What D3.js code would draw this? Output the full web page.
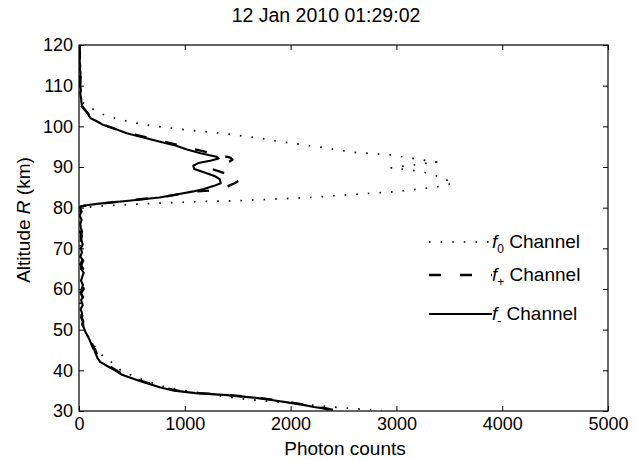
<!DOCTYPE html>
<html>
<head>
<meta charset="utf-8">
<script src="https://cdn.jsdelivr.net/npm/d3@7"></script>
<style>
  body { margin: 0; background: #fff; }
  text { font-family: "Liberation Sans", Arial, sans-serif; fill: #000; }
</style>
</head>
<body>
<div id="container"></div>
<script>
'use strict';

const width = 637,
      height = 460,
      margin = {top: 45, bottom: 49, right: 29, left: 79};

// altitude (km), photon counts
const f0Data = [
  [120, 2], [118, 4], [116, 6], [114, 5], [112, 8], [110, 12], [108, 15], [107, 20],
  [106, 30], [105, 70], [104.3, 126], [103, 220], [102, 340], [101, 500], [100.2, 671],
  [99.1, 1018], [98.3, 1349], [97.1, 1711], [96.6, 1805], [95, 2247], [93.6, 2593],
  [93, 2940], [92.1, 3160], [91.2, 3381], [90.5, 3150], [89.8, 2950], [89.2, 3150],
  [88.5, 3300], [87.5, 3420], [86.5, 3500], [86, 3540], [85.2, 3403], [84.5, 3190],
  [83.9, 2971], [83.3, 2624], [82.5, 2183], [82.1, 1837], [81.7, 1490], [81.5, 1144],
  [81.2, 850], [80.8, 500], [80.4, 200], [80, 50], [79, 10], [77, 15], [75, 8], [73, 20],
  [71, 12], [69, 18], [67, 10], [65, 22], [63, 15], [61, 25], [59, 12], [57, 10],
  [55, 15], [53.5, 20], [52, 25], [50, 55], [47.5, 104], [45.5, 160], [43.4, 230],
  [41.7, 324], [39.8, 403], [37.6, 608], [35.8, 829], [34.8, 1049], [34.4, 1175],
  [33.1, 1490], [32.3, 1837], [31.7, 2089], [31.2, 2309], [30.7, 2530], [30.4, 2700],
  [30.2, 2860]
];

const fPlusData = [
  [120, 6], [119, 3], [118, 10], [117, 5], [116, 14], [115, 8], [114, 12], [113, 6],
  [112, 16], [111, 10], [110, 13], [109, 20], [108, 10], [107, 24], [106, 20], [105, 25],
  [104, 55], [103, 90], [102, 130], [101, 200], [100, 270], [99, 380], [98, 520],
  [97, 690], [96, 840], [95, 1000], [94, 1150], [93, 1330], [92.3, 1430], [91.8, 1450],
  [91.3, 1420], [90.5, 1330], [89.5, 1260], [88.4, 1380], [87.5, 1480], [86.8, 1520],
  [86, 1470], [85.2, 1400], [84.6, 1300], [84.2, 1238], [84, 1112], [83.5, 1000],
  [82.6, 780], [81.8, 480], [81, 200], [80.6, 80], [80.3, 20], [80, 8], [79, 25],
  [78, 12], [77, 30], [76, 15], [75, 22], [74, 10], [73, 28], [72, 18], [71, 30],
  [70, 14], [69, 35], [68, 20], [67, 30], [66, 12], [65, 40], [64, 22], [63, 35],
  [62, 15], [61, 30], [60, 45], [59, 20], [58, 32], [57, 15], [56, 38], [55, 22],
  [54, 40], [53, 25], [52, 40], [51, 38], [50.3, 55], [49.5, 70], [48.5, 90],
  [47.5, 115], [46.5, 125], [45.5, 140], [45, 155], [44, 170], [43, 190], [42, 220],
  [41, 290], [40, 350], [39, 420], [38.3, 480], [37.5, 580], [36.5, 700], [35.8, 790],
  [35, 930], [34.4, 1130], [33.9, 1420], [33.3, 1680], [32.7, 1850], [32, 2030],
  [31.5, 2150], [31, 2250], [30.7, 2330], [30.3, 2400]
];

const fMinusData = [
  [120, 5], [119, 8], [118, 4], [117, 10], [116, 6], [115, 12], [114, 8], [113, 15],
  [112, 10], [111, 14], [110, 9], [109, 18], [108, 12], [107, 20], [106, 22], [105, 30],
  [104.5, 45], [104, 60], [103.5, 75], [103, 85], [102.5, 95], [102, 110], [101.5, 150],
  [101, 185], [100.3, 230], [99.5, 330], [98.3, 451], [97.3, 600], [96.2, 766],
  [95.2, 920], [94.3, 1020], [93.4, 1150], [92.5, 1300], [92.1, 1320], [91.6, 1250],
  [91, 1130], [90.3, 1080], [89.5, 1090], [88.7, 1180], [87.8, 1280], [87, 1330],
  [86, 1340], [85.3, 1270], [84.6, 1180], [84, 1080], [83.4, 960], [82.5, 760],
  [81.7, 470], [81, 190], [80.6, 70], [80.3, 15], [80, 10], [79, 20], [78, 8], [77, 25],
  [76, 12], [75, 18], [74, 30], [73, 15], [72, 22], [71, 35], [70, 18], [69, 28],
  [68, 12], [67, 40], [66, 25], [65, 18], [64, 45], [63, 30], [62, 20], [61, 38],
  [60, 25], [59, 15], [58, 40], [57.3, 20], [56, 35], [55, 15], [54, 30], [53, 20],
  [52, 35], [51.2, 30], [50.5, 45], [49.5, 60], [48.5, 80], [47.5, 100], [46.5, 115],
  [45.5, 130], [45, 145], [44, 160], [43, 175], [42.1, 200], [41, 270], [40, 340],
  [39, 400], [38.4, 460], [37.5, 560], [36.5, 680], [35.8, 770], [35, 900], [34.4, 1100],
  [33.9, 1400], [33.3, 1650], [32.7, 1820], [32, 2000], [31.5, 2120], [31, 2220],
  [30.7, 2300], [30.3, 2360]
];

const xTicks = [0, 1000, 2000, 3000, 4000, 5000];
const yTicks = [30, 40, 50, 60, 70, 80, 90, 100, 110, 120];

const series = [
  {name: "0", data: f0Data, dash: "1.6,10", width: 1.7},
  {name: "+", data: fPlusData, dash: "12,19", width: 2.3},
  {name: "-", data: fMinusData, dash: null, width: 2.1}
];

const svg = d3.select("#container")
  .append("svg")
  .attr("width", width)
  .attr("height", height);

const xScale = d3.scaleLinear()
  .domain([0, 5000])
  .range([margin.left, width - margin.right]);

const yScale = d3.scaleLinear()
  .domain([30, 120])
  .range([height - margin.bottom, margin.top]);

svg.append("defs").append("clipPath")
  .attr("id", "plotclip")
  .append("rect")
  .attr("x", margin.left)
  .attr("y", margin.top)
  .attr("width", width - margin.left - margin.right)
  .attr("height", height - margin.top - margin.bottom);

const line = d3.line()
  .x(d => xScale(d[1]))
  .y(d => yScale(d[0]));

svg.append("g")
  .attr("clip-path", "url(#plotclip)")
  .selectAll("path")
  .data(series)
  .join("path")
  .attr("d", d => line(d.data))
  .attr("fill", "none")
  .attr("stroke", "#000")
  .attr("stroke-width", d => d.width)
  .attr("stroke-linejoin", "round")
  .attr("stroke-dasharray", d => d.dash);

// axes with inward ticks (matlab style)
const xAxis = d3.axisBottom(xScale).tickValues(xTicks).tickFormat(d3.format("d"))
  .tickSizeInner(-5).tickSizeOuter(0).tickPadding(6);
const yAxis = d3.axisLeft(yScale).tickValues(yTicks).tickFormat(d3.format("d"))
  .tickSizeInner(-5).tickSizeOuter(0).tickPadding(6);

svg.append("g")
  .attr("class", "axis x-axis")
  .attr("transform", `translate(0, ${height - margin.bottom})`)
  .call(xAxis);

svg.append("g")
  .attr("class", "axis y-axis")
  .attr("transform", `translate(${margin.left}, 0)`)
  .call(yAxis);

svg.append("g")
  .attr("transform", `translate(0, ${margin.top})`)
  .call(d3.axisTop(xScale).tickValues(xTicks).tickSizeInner(-5).tickSizeOuter(0).tickFormat(""));

svg.append("g")
  .attr("transform", `translate(${width - margin.right}, 0)`)
  .call(d3.axisRight(yScale).tickValues(yTicks).tickSizeInner(-5).tickSizeOuter(0).tickFormat(""));

svg.selectAll(".domain").remove();
svg.selectAll(".tick line").attr("stroke", "#000");
svg.selectAll(".tick text").attr("font-size", 18).attr("font-family", "Liberation Sans, Arial, sans-serif");

svg.append("rect")
  .attr("x", margin.left)
  .attr("y", margin.top)
  .attr("width", width - margin.left - margin.right)
  .attr("height", height - margin.top - margin.bottom)
  .attr("fill", "none")
  .attr("stroke", "#000")
  .attr("stroke-width", 1.2);

svg.append("text")
  .attr("x", 326)
  .attr("y", 22)
  .attr("text-anchor", "middle")
  .attr("font-size", 19.5)
  .text("12 Jan 2010 01:29:02");

svg.append("text")
  .attr("x", 345)
  .attr("y", 455)
  .attr("text-anchor", "middle")
  .attr("font-size", 19)
  .text("Photon counts");

const ylab = svg.append("text")
  .attr("transform", "translate(30, 220) rotate(-90)")
  .attr("text-anchor", "middle")
  .attr("font-size", 19);
ylab.append("tspan").text("Altitude ");
ylab.append("tspan").attr("font-style", "italic").text("R");
ylab.append("tspan").text(" (km)");

// legend
const legendY = [242, 275, 314];
const legend = svg.append("g")
  .selectAll("g")
  .data(series)
  .join("g")
  .attr("transform", (d, i) => `translate(429, ${legendY[i]})`);

legend.append("line")
  .attr("x1", 0)
  .attr("x2", 63)
  .attr("stroke", "#000")
  .attr("stroke-width", d => d.width)
  .attr("stroke-dasharray", d => d.dash);

const ltext = legend.append("text")
  .attr("x", 63)
  .attr("y", 6)
  .attr("font-size", 19);
ltext.append("tspan").attr("font-style", "italic").text("f");
ltext.append("tspan").attr("font-size", 12).attr("dy", 5).text(d => d.name);
ltext.append("tspan").attr("dy", -5).text(" Channel");
</script>
</body>
</html>
